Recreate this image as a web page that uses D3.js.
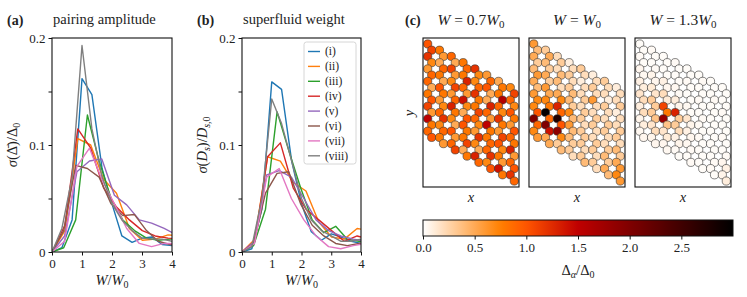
<!DOCTYPE html>
<html>
<head>
<meta charset="utf-8">
<script src="https://cdn.jsdelivr.net/npm/d3@7"></script>
<style>
  body { margin: 0; background: #fff; }
  svg text { font-family: "Liberation Serif", serif; fill: #222; }
</style>
</head>
<body>
<svg id="fig" width="747" height="297"></svg>
<script>
// ---- data ----
const seriesNames = ['(i)', '(ii)', '(iii)', '(iv)', '(v)', '(vi)', '(vii)', '(viii)'];
const seriesColors = ['#1f77b4', '#ff7f0e', '#2ca02c', '#d62728', '#9467bd', '#8c564b', '#e377c2', '#7f7f7f'];

// W/W0 sample points of each system
const wValues = [
  [0, 0.33, 0.67, 1.0, 1.33, 1.67, 2.0, 2.33, 2.67, 3.0, 3.33, 3.67, 4.0],
  [0, 0.43, 0.86, 1.29, 1.72, 2.15, 2.58, 3.01, 3.44, 3.87, 4.3],
  [0, 0.39, 0.79, 1.18, 1.57, 1.97, 2.36, 2.75, 3.15, 3.54, 3.93, 4.33],
  [0, 0.43, 0.86, 1.29, 1.72, 2.15, 2.58, 3.01, 3.44, 3.87, 4.3],
  [0, 0.42, 0.83, 1.25, 1.66, 2.08, 2.49, 2.91, 3.32, 3.74, 4.15],
  [0, 0.39, 0.79, 1.18, 1.57, 1.97, 2.36, 2.75, 3.15, 3.54, 3.93, 4.33],
  [0, 0.42, 0.83, 1.25, 1.66, 2.08, 2.49, 2.91, 3.32, 3.74, 4.15],
  [0, 0.33, 0.67, 1.0, 1.33, 1.67, 2.0, 2.33, 2.67, 3.0, 3.33, 3.67, 4.0]
];

// (a) sigma(Delta)/Delta0
const pairingSigma = [
  [0, 0.004, 0.03, 0.162, 0.147, 0.078, 0.045, 0.015, 0.009, 0.013, 0.014, 0.007, 0.006],
  [0, 0.02, 0.106, 0.1, 0.068, 0.055, 0.022, 0.011, 0.012, 0.016, 0.015],
  [0, 0.004, 0.03, 0.128, 0.085, 0.05, 0.03, 0.02, 0.013, 0.011, 0.012, 0.012],
  [0, 0.025, 0.115, 0.097, 0.06, 0.042, 0.03, 0.02, 0.015, 0.013, 0.012],
  [0, 0.015, 0.075, 0.085, 0.087, 0.053, 0.044, 0.03, 0.027, 0.022, 0.016],
  [0, 0.02, 0.081, 0.078, 0.07, 0.045, 0.034, 0.035, 0.02, 0.01, 0.007, 0.006],
  [0, 0.01, 0.08, 0.097, 0.068, 0.045, 0.022, 0.008, 0.005, 0.008, 0.008],
  [0, 0.022, 0.07, 0.193, 0.115, 0.07, 0.045, 0.03, 0.02, 0.013, 0.012, 0.012, 0.01]
];

// (b) sigma(Ds)/Ds0
const weightSigma = [
  [0, 0.003, 0.04, 0.159, 0.152, 0.085, 0.045, 0.019, 0.011, 0.017, 0.014, 0.01, 0.008],
  [0, 0.012, 0.089, 0.085, 0.065, 0.057, 0.028, 0.014, 0.012, 0.022, 0.02],
  [0, 0.006, 0.04, 0.131, 0.095, 0.06, 0.03, 0.018, 0.024, 0.012, 0.01, 0.01],
  [0, 0.01, 0.089, 0.102, 0.06, 0.04, 0.03, 0.02, 0.01, 0.015, 0.012],
  [0, 0.01, 0.072, 0.076, 0.07, 0.05, 0.03, 0.02, 0.015, 0.012, 0.01],
  [0, 0.008, 0.055, 0.0735, 0.075, 0.045, 0.025, 0.015, 0.008, 0.006, 0.008, 0.01],
  [0, 0.008, 0.07, 0.078, 0.05, 0.03, 0.015, 0.005, 0.003, 0.006, 0.008],
  [0, 0.005, 0.05, 0.143, 0.12, 0.085, 0.05, 0.03, 0.02, 0.015, 0.01, 0.01, 0.012]
];

const xTicks = [0, 1, 2, 3, 4];
const yTicks = [0, 0.05, 0.1, 0.15, 0.2];
const yTickLabels = ['0', '', '0.1', '', '0.2'];

// (c) local pairing Delta_alpha/Delta0 on the flake, one row per cell row j, sites A0 B0 A1 B1 ...
const sitesW07 = [
  [1.0, 1.1, 0.8, 0.6, 0.9, 0.5, 0.8, 0.9, 1.2, 0.7, 0.6, 0.9, 0.5, 0.8, 0.7, 1.1],
  [1.2, 0.7, 0.5, 0.9, 1.1, 0.6, 0.8, 1.3, 0.7, 0.9, 1.0, 0.5, 0.8, 1.6, 0.9, 0.7],
  [0.6, 0.9, 0.8, 0.5, 0.7, 1.1, 0.9, 0.6, 1.2, 0.8, 0.5, 1.3, 0.9, 0.7, 1.0, 0.8],
  [0.9, 0.5, 1.0, 0.8, 0.6, 0.9, 1.4, 0.7, 0.8, 1.1, 0.9, 0.6, 1.2, 0.8, 0.6, 1.0],
  [0.8, 1.0, 0.6, 0.7, 1.3, 0.8, 0.5, 1.0, 0.9, 0.7, 1.5, 0.8, 0.6, 1.1, 0.9, 0.8],
  [1.1, 0.6, 0.9, 1.2, 0.7, 0.5, 1.0, 0.8, 0.6, 1.2, 0.8, 0.9, 1.0, 0.7, 1.3, 0.6],
  [1.5, 0.8, 0.7, 0.9, 1.0, 0.6, 0.8, 1.1, 0.7, 0.5, 0.9, 1.2, 0.8, 0.6, 0.9, 1.0],
  [0.9, 1.0, 0.8, 0.6, 0.9, 1.1, 0.5, 0.8, 1.3, 0.9, 0.7, 1.0, 1.4, 0.8, 1.2, 0.9]
];
const sitesW10 = [
  [0.6, 0.4, 0.3, 0.5, 0.2, 0.3, 0.1, 0.2, 0.3, 0.2, 0.1, 0.2, 0.3, 0.2, 0.1, 0.2],
  [0.5, 0.3, 0.4, 0.3, 0.2, 0.4, 0.3, 0.2, 0.1, 0.2, 0.3, 0.2, 0.2, 0.1, 0.2, 0.3],
  [0.4, 0.6, 0.5, 0.3, 0.4, 0.2, 0.3, 0.4, 0.2, 0.3, 0.6, 0.2, 0.3, 0.2, 0.1, 0.2],
  [0.5, 0.4, 0.6, 0.5, 0.5, 0.7, 0.4, 0.3, 0.2, 0.3, 0.2, 0.3, 0.2, 0.3, 0.2, 0.3],
  [0.6, 0.7, 0.7, 0.8, 1.3, 0.9, 0.7, 0.4, 0.3, 0.2, 0.3, 0.2, 0.3, 0.2, 0.3, 0.2],
  [0.7, 1.0, 2.95, 0.9, 2.75, 1.0, 0.6, 0.4, 0.3, 0.3, 0.2, 0.3, 0.2, 0.3, 0.4, 0.3],
  [2.0, 0.9, 2.0, 1.4, 1.9, 0.7, 0.4, 0.3, 0.3, 0.2, 0.3, 0.2, 0.4, 0.3, 0.5, 0.6],
  [0.7, 0.6, 0.5, 0.5, 0.3, 0.4, 0.3, 0.2, 0.3, 0.4, 0.3, 0.2, 0.5, 0.4, 0.7, 0.6]
];
const sitesW13 = [
  [0.02, 0.02, 0.03, 0.02, 0.02, 0.02, 0.03, 0.02, 0.02, 0.02, 0.02, 0.03, 0.02, 0.02, 0.02, 0.02],
  [0.03, 0.02, 0.02, 0.03, 0.02, 0.02, 0.02, 0.02, 0.03, 0.02, 0.02, 0.02, 0.02, 0.03, 0.02, 0.02],
  [0.05, 0.04, 0.06, 0.05, 0.08, 0.05, 0.04, 0.03, 0.02, 0.02, 0.03, 0.02, 0.02, 0.02, 0.03, 0.02],
  [0.08, 0.1, 0.12, 0.15, 0.2, 0.12, 0.1, 0.06, 0.04, 0.02, 0.02, 0.03, 0.02, 0.02, 0.02, 0.02],
  [0.15, 0.2, 0.3, 0.3, 1.1, 0.8, 1.3, 0.3, 0.15, 0.06, 0.03, 0.02, 0.02, 0.02, 0.03, 0.02],
  [0.1, 0.2, 0.3, 0.35, 1.8, 0.35, 0.3, 0.2, 0.08, 0.05, 0.03, 0.02, 0.02, 0.02, 0.02, 0.03],
  [0.06, 0.1, 0.15, 0.2, 0.15, 0.12, 0.08, 0.06, 0.04, 0.03, 0.02, 0.02, 0.02, 0.03, 0.05, 0.08],
  [0.04, 0.05, 0.06, 0.05, 0.05, 0.04, 0.03, 0.02, 0.02, 0.03, 0.02, 0.02, 0.03, 0.02, 0.06, 0.1]
];
const latticeTitles = ['0.7', '', '1.3'];
const cbarTicks = [0, 0.5, 1, 1.5, 2, 2.5];

// ---- drawing ----
const FONT = '"Liberation Serif", serif';
const svg = d3.select('#fig');
const defs = svg.append('defs');

// gist_heat_r colormap
function heat(v) {
  const x = 1 - Math.max(0, Math.min(1, v / 3));
  const r = Math.min(1, 1.5 * x), g = Math.max(0, 2 * x - 1), b = Math.max(0, 4 * x - 3);
  return d3.rgb(r * 255, g * 255, b * 255).formatHex();
}

function styleAxis(a) {
  a.attr('font-family', FONT);
  a.select('.domain').remove();
  a.selectAll('text').style('font-family', FONT).attr('font-size', 13).attr('fill', '#222');
  a.selectAll('line').attr('stroke', '#111').attr('stroke-width', 1);
}

function linePanel(id, left, right, top, bottom, values, letter, title, ylab) {
  const x = d3.scaleLinear().domain([0, 4]).range([left, right]);
  const y = d3.scaleLinear().domain([0, 0.2]).range([bottom, top]);
  const g = svg.append('g');

  defs.append('clipPath').attr('id', id)
    .append('rect').attr('x', left).attr('y', top).attr('width', right - left).attr('height', bottom - top);

  const line = d3.line().x(d => x(d[0])).y(d => y(d[1]));
  const lines = g.append('g').attr('clip-path', `url(#${id})`);
  values.forEach((ys, k) => {
    lines.append('path')
      .datum(ys.map((v, i) => [wValues[k][i], v]))
      .attr('d', line)
      .attr('fill', 'none')
      .attr('stroke', seriesColors[k])
      .attr('stroke-width', 1.4)
      .attr('stroke-linejoin', 'round');
  });

  styleAxis(g.append('g')
    .attr('transform', `translate(0,${bottom})`)
    .call(d3.axisBottom(x).tickValues(xTicks).tickSize(3.5).tickPadding(3).tickFormat(d3.format('d'))));
  styleAxis(g.append('g')
    .attr('transform', `translate(${left},0)`)
    .call(d3.axisLeft(y).tickValues(yTicks).tickSize(3.5).tickPadding(3).tickFormat((d, i) => yTickLabels[i])));

  g.append('rect')
    .attr('x', left).attr('y', top).attr('width', right - left).attr('height', bottom - top)
    .attr('fill', 'none').attr('stroke', '#111').attr('stroke-width', 1.1);

  // panel letter and title
  g.append('text').attr('x', left - 45).attr('y', 25).attr('font-size', 14).attr('font-weight', 'bold').text(`(${letter})`);
  g.append('text').attr('x', left + 1).attr('y', 24).attr('font-size', 14.5).text(title);

  // x label
  const xl = g.append('text').attr('x', (left + right) / 2).attr('y', 285).attr('text-anchor', 'middle').attr('font-size', 14.5);
  xl.append('tspan').attr('font-style', 'italic').text('W');
  xl.append('tspan').text('/');
  xl.append('tspan').attr('font-style', 'italic').text('W');
  xl.append('tspan').attr('font-size', 10).attr('dy', 3).text('0');

  // y label
  const yl = g.append('text')
    .attr('transform', `translate(${left - 35},${(top + bottom) / 2}) rotate(-90)`)
    .attr('text-anchor', 'middle').attr('font-size', 14.5);
  ylab(yl);
}

linePanel('clipA', 52, 172, 38, 252, pairingSigma, 'a', 'pairing amplitude', t => {
  t.append('tspan').attr('font-style', 'italic').text('σ');
  t.append('tspan').text('(Δ\u0304)/Δ');
  t.append('tspan').attr('font-size', 10).attr('dy', 3).text('0');
});

linePanel('clipB', 242, 361, 38, 252, weightSigma, 'b', 'superfluid weight', t => {
  t.append('tspan').attr('font-style', 'italic').text('σ');
  t.append('tspan').text('(');
  t.append('tspan').attr('font-style', 'italic').text('D');
  t.append('tspan').attr('font-size', 10).attr('font-style', 'italic').attr('dy', 3).text('s');
  t.append('tspan').attr('dy', -3).text(')/');
  t.append('tspan').attr('font-style', 'italic').text('D');
  t.append('tspan').attr('font-size', 10).attr('font-style', 'italic').attr('dy', 3).text('s');
  t.append('tspan').attr('font-size', 10).text(',0');
});

// legend in (b)
const leg = svg.append('g');
leg.append('rect').attr('x', 304).attr('y', 42).attr('width', 52).attr('height', 122).attr('rx', 2.5)
  .attr('fill', '#fff').attr('fill-opacity', 0.85).attr('stroke', '#ccc').attr('stroke-width', 0.8);
seriesNames.forEach((name, k) => {
  const yy = 51.5 + k * 14.9;
  leg.append('line').attr('x1', 308).attr('x2', 320).attr('y1', yy).attr('y2', yy)
    .attr('stroke', seriesColors[k]).attr('stroke-width', 1.4);
  leg.append('text').attr('x', 325).attr('y', yy + 3.8).attr('font-size', 11.5).text(name);
});

// (c) lattice panels: rhombic honeycomb flake, 8 x 8 cells, two sites per cell
const nCells = 8;
const sites = [];
for (let j = 0; j < nCells; j++) {
  for (let i = 0; i < nCells; i++) {
    sites.push({ i, j, s: 0, lx: 1.5 * i, ly: 0.866 * i + 1.732 * j });
    sites.push({ i, j, s: 1, lx: 1.5 * i + 0.5, ly: 0.866 * i + 1.732 * j + 0.866 });
  }
}
const latticeData = [sitesW07, sitesW10, sitesW13];
const panelLefts = [423, 529, 635];
const pw = 96, ptop = 38, pbottom = 187;

latticeData.forEach((vals, p) => {
  const left = panelLefts[p];
  const sx = d3.scaleLinear().domain([-0.6, 11.6]).range([left, left + pw]);
  const sy = d3.scaleLinear().domain([-0.83, 19.88]).range([ptop, pbottom]);
  const g = svg.append('g');
  g.selectAll('circle').data(sites).enter().append('circle')
    .attr('cx', d => sx(d.lx)).attr('cy', d => sy(d.ly)).attr('r', 4.1)
    .attr('fill', d => heat(vals[d.j][2 * d.i + d.s]))
    .attr('stroke', '#333').attr('stroke-width', 0.6);
  g.append('rect').attr('x', left).attr('y', ptop).attr('width', pw).attr('height', pbottom - ptop)
    .attr('fill', 'none').attr('stroke', '#111').attr('stroke-width', 1.1);
  g.append('text').attr('x', left + pw / 2).attr('y', 202).attr('text-anchor', 'middle')
    .attr('font-size', 14.5).attr('font-style', 'italic').text('x');

  const t = g.append('text').attr('x', left + pw / 2).attr('y', 25).attr('text-anchor', 'middle').attr('font-size', 15.5);
  t.append('tspan').attr('font-style', 'italic').text('W');
  t.append('tspan').text(' = ' + latticeTitles[p]);
  t.append('tspan').attr('font-style', 'italic').text('W');
  t.append('tspan').attr('font-size', 11).attr('dy', 3).text('0');
});
svg.append('text').attr('x', 405).attr('y', 25).attr('font-size', 14).attr('font-weight', 'bold').text('(c)');
svg.append('text').attr('transform', 'translate(414,113) rotate(-90)').attr('text-anchor', 'middle')
  .attr('font-size', 14.5).attr('font-style', 'italic').text('y');

// colorbar
const cb = d3.scaleLinear().domain([0, 3]).range([423, 733]);
const grad = defs.append('linearGradient').attr('id', 'heatgrad');
d3.range(0, 1.0001, 0.02).forEach(f => {
  grad.append('stop').attr('offset', f).attr('stop-color', heat(f * 3));
});
svg.append('rect').attr('x', 423).attr('y', 220).attr('width', 310).attr('height', 16)
  .attr('fill', 'url(#heatgrad)').attr('stroke', '#111').attr('stroke-width', 1);
styleAxis(svg.append('g').attr('transform', 'translate(0,236)')
  .call(d3.axisBottom(cb).tickValues(cbarTicks).tickSize(3.5).tickPadding(3).tickFormat(d3.format('.1f'))));
const cl = svg.append('text').attr('x', 578).attr('y', 275).attr('text-anchor', 'middle').attr('font-size', 14.5);
cl.append('tspan').text('Δ');
cl.append('tspan').attr('font-size', 10).attr('font-style', 'italic').attr('dy', 3).text('α');
cl.append('tspan').attr('dy', -3).text('/Δ');
cl.append('tspan').attr('font-size', 10).attr('dy', 3).text('0');
</script>
</body>
</html>
